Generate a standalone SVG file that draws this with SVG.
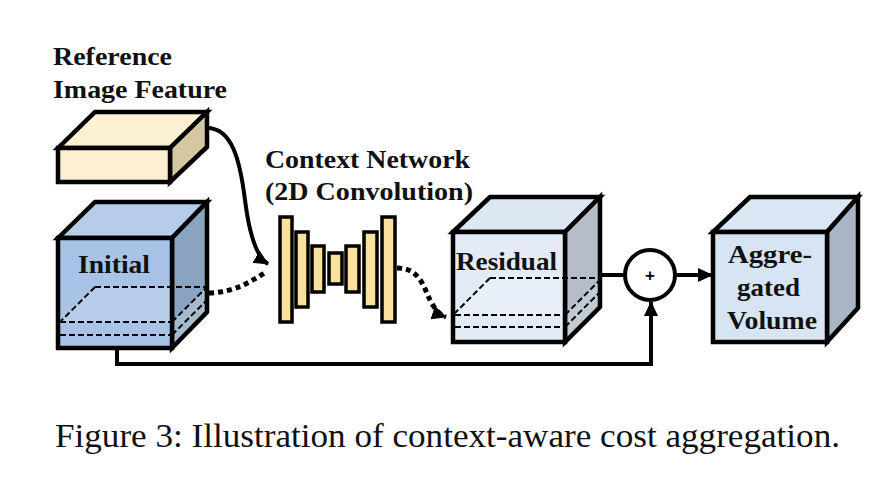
<svg xmlns="http://www.w3.org/2000/svg" width="886" height="480" viewBox="0 0 886 480">
<style>
.o{stroke:#000;stroke-width:4.5;stroke-linejoin:miter}
.d{fill:none;stroke:#000;stroke-width:2;stroke-dasharray:6 3}
.c{fill:none;stroke:#000;stroke-width:4}
.dot{fill:none;stroke:#000;stroke-width:5;stroke-dasharray:5 4}
.t{font-family:"Liberation Serif","Times New Roman",serif;font-weight:bold;font-size:26px;fill:#111}
.bar{fill:#fbe29c;stroke:#000;stroke-width:3.5}
</style>
<defs>
<marker id="ah" markerUnits="userSpaceOnUse" markerWidth="16" markerHeight="16" refX="14" refY="8" orient="auto" viewBox="0 0 16 16">
<path d="M0,1 L15,8 L0,15 Z" fill="#000"/>
</marker>
</defs>
<rect width="886" height="480" fill="#fff"/>

<g id="label-ref">
<text class="t" x="53" y="65" textLength="119" lengthAdjust="spacingAndGlyphs">Reference</text>
<text class="t" x="53" y="98" textLength="174" lengthAdjust="spacingAndGlyphs">Image Feature</text>
</g>
<g id="label-context">
<text class="t" x="265" y="168" textLength="205" lengthAdjust="spacingAndGlyphs">Context Network</text>
<text class="t" x="265" y="200" textLength="208" lengthAdjust="spacingAndGlyphs">(2D Convolution)</text>
</g>

<g id="connectors">
<path class="c" d="M207,128 C232,128 240,160 245,200 C250,240 258,258 268,264" marker-end="url(#ah)"/>
<path class="dot" d="M209,293 C235,292 250,282 266,272"/>
<path class="dot" d="M397,268 C420,268 424,288 430,300 C435,310 440,315 446,317" marker-end="url(#ah)"/>
<line class="c" x1="600" y1="275" x2="624" y2="275"/>
<line class="c" x1="677" y1="275" x2="712" y2="275" marker-end="url(#ah)"/>
<path class="c" d="M117,348 V364 H651 V302" marker-end="url(#ah)"/>
</g>

<g id="node-ref-feature">
<polygon class="o" points="58,148 95,112 207,112 170,148" fill="#fdf1d4"/>
<polygon class="o" points="170,148 207,112 207,147 170,182" fill="#d6c7a3"/>
<rect class="o" x="58" y="148" width="112" height="34" fill="#fdf0d2"/>
</g>

<g id="node-initial">
<polygon class="o" points="58,238 95,202 207,202 172,238" fill="#b5cde9"/>
<polygon points="172,238 207,202 207,312 172,348" fill="#8aa3bf"/>
<polygon points="172,322 207,287 207,312 172,348" fill="#a6bad0"/>
<polygon class="o" points="172,238 207,202 207,312 172,348" fill="none"/>
<rect x="58" y="238" width="114" height="110" fill="#a8c3e6"/>
<polygon points="60,322 95,287 172,287 172,322" fill="#b6cde9"/>
<rect class="o" x="58" y="238" width="114" height="110" fill="none"/>
<path class="d" d="M95,287 H207 M95,287 L61,321 M60,322 H172 M60,335 H172 M172,322 L207,287 M172,335 L207,300"/>
<text class="t" x="78" y="273" textLength="72" lengthAdjust="spacingAndGlyphs">Initial</text>
</g>

<g id="node-context-network">
<rect class="bar" x="280" y="217" width="12" height="105"/>
<rect class="bar" x="296" y="232" width="12" height="75"/>
<rect class="bar" x="312" y="246" width="12" height="46"/>
<rect class="bar" x="329" y="253" width="13" height="31"/>
<rect class="bar" x="346" y="246" width="13" height="46"/>
<rect class="bar" x="364" y="232" width="13" height="75"/>
<rect class="bar" x="382" y="217" width="13" height="105"/>
</g>

<g id="node-residual">
<polygon class="o" points="453,232 490,197 600,197 565,232" fill="#dde7f4"/>
<polygon points="565,232 600,197 600,307 565,342" fill="#b4bdc9"/>
<polygon points="565,315 600,280 600,307 565,342" fill="#c2cad4"/>
<polygon class="o" points="565,232 600,197 600,307 565,342" fill="none"/>
<rect x="453" y="232" width="112" height="110" fill="#e3ebf7"/>
<polygon points="455,315 490,278 565,278 565,315" fill="#e8eff9"/>
<rect class="o" x="453" y="232" width="112" height="110" fill="none"/>
<path class="d" d="M490,278 H600 M490,278 L455,313 M455,315 H565 M455,327 H565 M565,315 L600,280 M565,327 L600,292"/>
<text class="t" x="456" y="270" textLength="101" lengthAdjust="spacingAndGlyphs">Residual</text>
</g>

<g id="node-sum">
<circle cx="650" cy="275" r="25" fill="#fff" stroke="#000" stroke-width="4"/>
<text x="650" y="281" text-anchor="middle" font-family="Liberation Sans, Arial, sans-serif" font-weight="bold" font-size="17" fill="#000">+</text>
</g>

<g id="node-aggregated">
<polygon class="o" points="713,232 750,197 858,197 827,232" fill="#dbe6f4"/>
<polygon class="o" points="827,232 858,197 858,308 827,342" fill="#a9b4c4"/>
<rect class="o" x="713" y="232" width="114" height="110" fill="#d7e4f3"/>
<text class="t" x="728" y="263" textLength="84" lengthAdjust="spacingAndGlyphs">Aggre-</text>
<text class="t" x="737" y="296" textLength="63" lengthAdjust="spacingAndGlyphs">gated</text>
<text class="t" x="727" y="329" textLength="90" lengthAdjust="spacingAndGlyphs">Volume</text>
</g>

<g id="caption">
<text x="55" y="447" font-family="Liberation Serif, Times New Roman, serif" font-size="33" fill="#111" textLength="785" lengthAdjust="spacingAndGlyphs">Figure 3: Illustration of context-aware cost aggregation.</text>
</g>
</svg>
